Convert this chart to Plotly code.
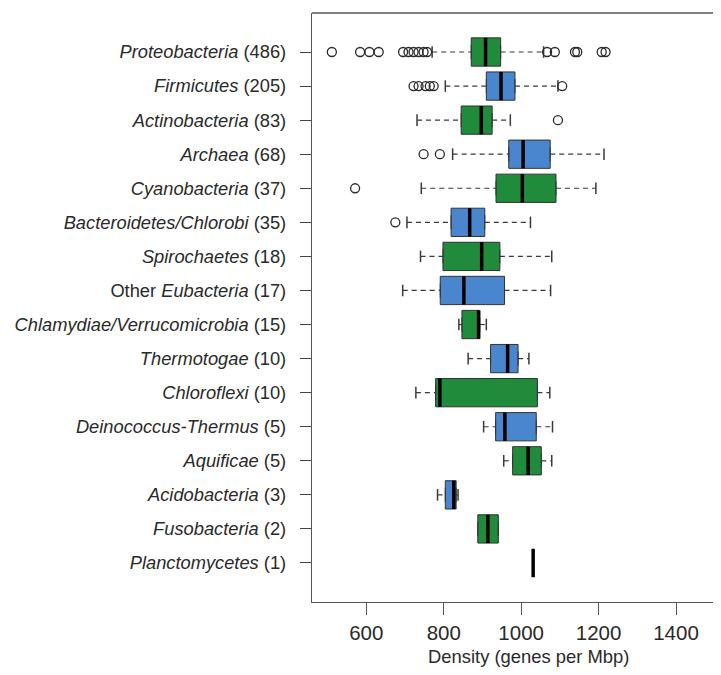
import plotly.graph_objects as go

# ---------------- data ----------------
labels = [
    "<i>Proteobacteria</i> (486)",
    "<i>Firmicutes</i> (205)",
    "<i>Actinobacteria</i> (83)",
    "<i>Archaea</i> (68)",
    "<i>Cyanobacteria</i> (37)",
    "<i>Bacteroidetes/Chlorobi</i> (35)",
    "<i>Spirochaetes</i> (18)",
    "Other <i>Eubacteria</i> (17)",
    "<i>Chlamydiae/Verrucomicrobia</i> (15)",
    "<i>Thermotogae</i> (10)",
    "<i>Chloroflexi</i> (10)",
    "<i>Deinococcus-Thermus</i> (5)",
    "<i>Aquificae</i> (5)",
    "<i>Acidobacteria</i> (3)",
    "<i>Fusobacteria</i> (2)",
    "<i>Planctomycetes</i> (1)",
]
positions = list(range(1, 17))

whisker_low = [770, 804, 731, 823, 742, 705, 740, 694, 839, 863, 728, 903, 955, 784, 888, 1031]
q1 =          [871, 910, 845, 968, 935, 819, 798, 791, 847, 921, 779, 934, 978, 804, 888, 1031]
median =      [908, 948, 897, 1005, 1003, 867, 898, 852, 890, 965, 790, 958, 1018, 826, 914, 1031]
q3 =          [947, 984, 925, 1075, 1090, 906, 945, 957, 893, 992, 1042, 1039, 1052, 832, 941, 1031]
whisker_high = [1058, 1095, 972, 1214, 1193, 1024, 1079, 1076, 910, 1020, 1074, 1081, 1079, 837, 941, 1031]

outliers = [
    [511, 584, 608, 632, 695, 709, 722, 735, 748, 757, 1067, 1087, 1139, 1145, 1208, 1218],
    [722, 735, 753, 764, 774, 1106],
    [1095],
    [748, 790],
    [571],
    [675],
    [], [], [], [], [], [], [], [], [], [],
]

x_ticks = [600, 800, 1000, 1200, 1400]

green_rows = [p for p in positions if p % 2 == 1]
blue_rows = [p for p in positions if p % 2 == 0]

GREEN = "#1f8b3b"
BLUE = "#4a86cd"
BOX_W = 0.83
CAP_W = 0.34

fig = go.Figure()

def add_boxes(rows, color):
    idx = [p - 1 for p in rows]
    fig.add_trace(go.Box(
        y=rows,
        q1=[q1[i] for i in idx],
        median=[median[i] for i in idx],
        q3=[q3[i] for i in idx],
        lowerfence=[q1[i] for i in idx],
        upperfence=[q3[i] for i in idx],
        orientation="h",
        width=BOX_W,
        fillcolor=color,
        line=dict(color="#333333", width=1),
        boxpoints=False,
        hoverinfo="skip",
        showlegend=False,
    ))

add_boxes(green_rows, GREEN)
add_boxes(blue_rows, BLUE)

# dashed whiskers
wx, wy = [], []
for i, p in enumerate(positions):
    if whisker_low[i] < q1[i]:
        wx += [whisker_low[i], q1[i], None]
        wy += [p, p, None]
    if whisker_high[i] > q3[i]:
        wx += [q3[i], whisker_high[i], None]
        wy += [p, p, None]
fig.add_trace(go.Scatter(x=wx, y=wy, mode="lines",
                         line=dict(color="#3a3a3a", width=1.2, dash="5px,4px"),
                         hoverinfo="skip", showlegend=False))

# whisker caps (staples)
cx, cy = [], []
for i, p in enumerate(positions):
    if whisker_low[i] < q1[i]:
        cx += [whisker_low[i], whisker_low[i], None]
        cy += [p - CAP_W / 2, p + CAP_W / 2, None]
    if whisker_high[i] > q3[i]:
        cx += [whisker_high[i], whisker_high[i], None]
        cy += [p - CAP_W / 2, p + CAP_W / 2, None]
fig.add_trace(go.Scatter(x=cx, y=cy, mode="lines",
                         line=dict(color="#3a3a3a", width=1.5),
                         hoverinfo="skip", showlegend=False))

# thick medians
mx, my = [], []
for i, p in enumerate(positions):
    mx += [median[i], median[i], None]
    my += [p - BOX_W / 2, p + BOX_W / 2, None]
fig.add_trace(go.Scatter(x=mx, y=my, mode="lines",
                         line=dict(color="#000000", width=3.5),
                         hoverinfo="skip", showlegend=False))

# outliers
ox, oy = [], []
for i, p in enumerate(positions):
    for v in outliers[i]:
        ox.append(v)
        oy.append(p)
fig.add_trace(go.Scatter(x=ox, y=oy, mode="markers",
                         marker=dict(symbol="circle-open", size=9,
                                     color="#2a2a2a", line=dict(width=1.3)),
                         hoverinfo="skip", showlegend=False))

FONT = "Liberation Sans, Arial, Helvetica, sans-serif"

fig.update_layout(
    width=713, height=659,
    margin=dict(l=304, r=0, t=5, b=65),
    paper_bgcolor="white", plot_bgcolor="white",
    boxmode="overlay",
    font=dict(family=FONT, color="#2a2a2a"),
    xaxis=dict(
        range=[459.7, 1516.2],
        tickvals=x_ticks,
        ticktext=[str(t) for t in x_ticks],
        ticks="outside", ticklen=12, tickwidth=1.3, tickcolor="#555555",
        tickfont=dict(size=20.5, family=FONT, color="#2a2a2a"),
        showline=True, linecolor="#555555", linewidth=1.3,
        showgrid=False, zeroline=False,
    ),
    yaxis=dict(
        range=[17.145, -0.145],
        tickvals=positions,
        ticktext=labels,
        ticks="outside", ticklen=11, tickwidth=1.3, tickcolor="#444444",
        ticklabelstandoff=10,
        tickfont=dict(size=18.3, family=FONT, color="#2a2a2a"),
        showline=True, linecolor="#555555", linewidth=1.3,
        showgrid=False, zeroline=False,
    ),
    shapes=[dict(type="line", xref="paper", yref="paper",
                 x0=0, x1=1, y0=1, y1=1,
                 line=dict(color="#555555", width=1.3))],
    annotations=[dict(text="Density (genes per Mbp)", xref="x", yref="paper",
                      x=1018, y=-0.092, yanchor="middle", xanchor="center",
                      showarrow=False,
                      font=dict(size=18.4, family=FONT, color="#2a2a2a"))],
)

fig.write_html("out.html")
